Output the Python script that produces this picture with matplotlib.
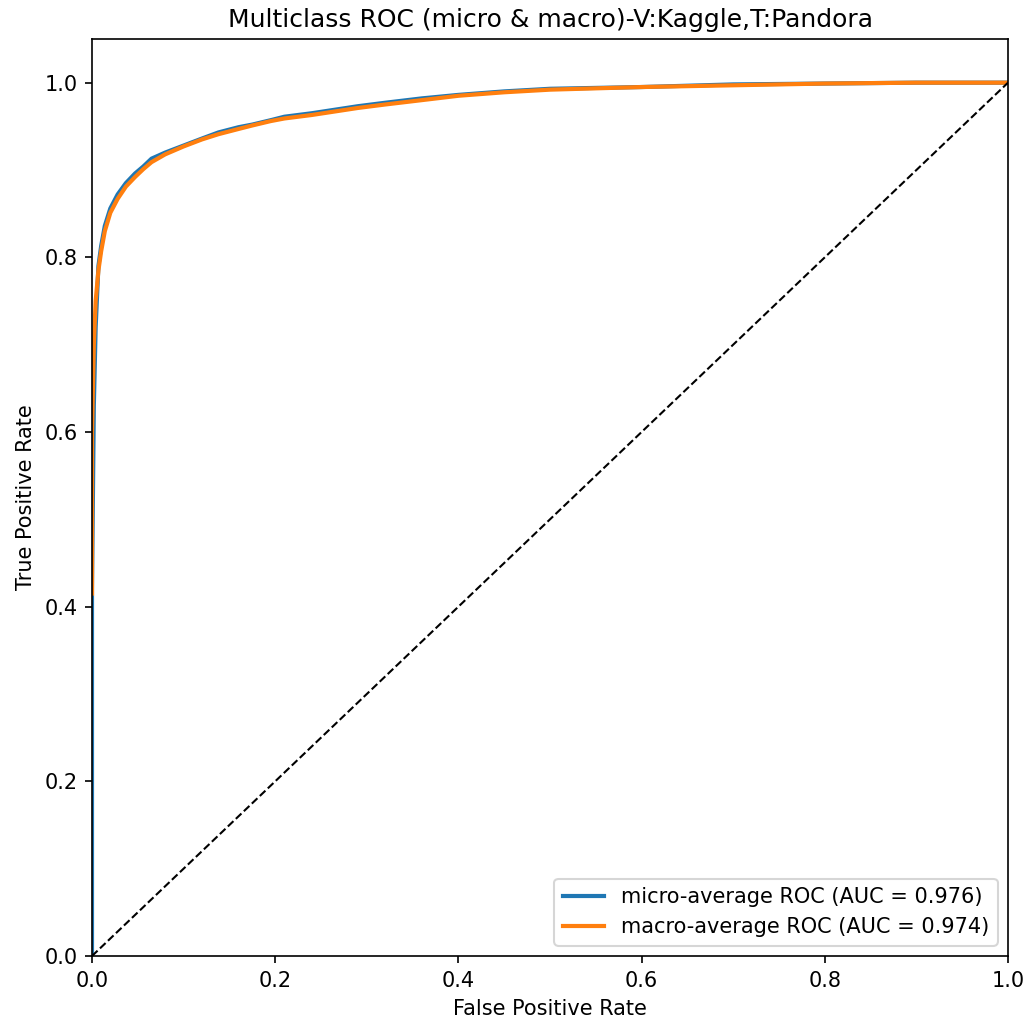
import matplotlib
matplotlib.use("Agg")
import matplotlib.pyplot as plt

# ROC points
micro_fpr = [0.0, 0.0, 0.002, 0.004, 0.007, 0.010, 0.014, 0.020, 0.028, 0.037, 0.047, 0.056, 0.065,
             0.080, 0.100, 0.120, 0.138, 0.160, 0.175, 0.195, 0.210, 0.240, 0.265, 0.290, 0.320,
             0.360, 0.400, 0.450, 0.500, 0.600, 0.700, 0.800, 0.900, 1.0]
micro_tpr = [0.0, 0.42, 0.63, 0.72, 0.79, 0.813, 0.836, 0.856, 0.872, 0.885, 0.896, 0.904, 0.913,
             0.920, 0.928, 0.936, 0.943, 0.949, 0.952, 0.957, 0.961, 0.965, 0.969, 0.973, 0.977,
             0.982, 0.986, 0.990, 0.993, 0.995, 0.998, 0.999, 1.0, 1.0]

macro_fpr = [0.0, 0.0, 0.002, 0.004, 0.007, 0.010, 0.014, 0.020, 0.028, 0.037, 0.047, 0.056, 0.065,
             0.080, 0.100, 0.120, 0.138, 0.160, 0.175, 0.195, 0.210, 0.240, 0.265, 0.290, 0.320,
             0.360, 0.400, 0.450, 0.500, 0.600, 0.700, 0.800, 0.900, 1.0]
macro_tpr = [0.415, 0.60, 0.70, 0.75, 0.785, 0.807, 0.830, 0.851, 0.867, 0.881, 0.892, 0.901, 0.909,
             0.918, 0.927, 0.935, 0.941, 0.947, 0.951, 0.956, 0.959, 0.963, 0.967, 0.971, 0.975,
             0.980, 0.985, 0.989, 0.992, 0.995, 0.997, 0.999, 1.0, 1.0]

micro_auc = 0.976
macro_auc = 0.974

fig = plt.figure(figsize=(1029 / 150, 1021 / 150), dpi=150)
ax = fig.add_axes([92 / 1029, 65 / 1021, 916 / 1029, 917 / 1021])

ax.plot(micro_fpr, micro_tpr, color="#1f77b4", lw=2,
        label="micro-average ROC (AUC = %.3f)" % micro_auc)
ax.plot(macro_fpr, macro_tpr, color="#ff7f0e", lw=2,
        label="macro-average ROC (AUC = %.3f)" % macro_auc)
ax.plot([0, 1], [0, 1], "k--", lw=1)

ax.set_xlim(0.0, 1.0)
ax.set_ylim(0.0, 1.05)
ax.set_xlabel("False Positive Rate")
ax.set_ylabel("True Positive Rate")
ax.set_title("Multiclass ROC (micro & macro)-V:Kaggle,T:Pandora")
ax.legend(loc="lower right")

fig.savefig("out.png", dpi=150)
